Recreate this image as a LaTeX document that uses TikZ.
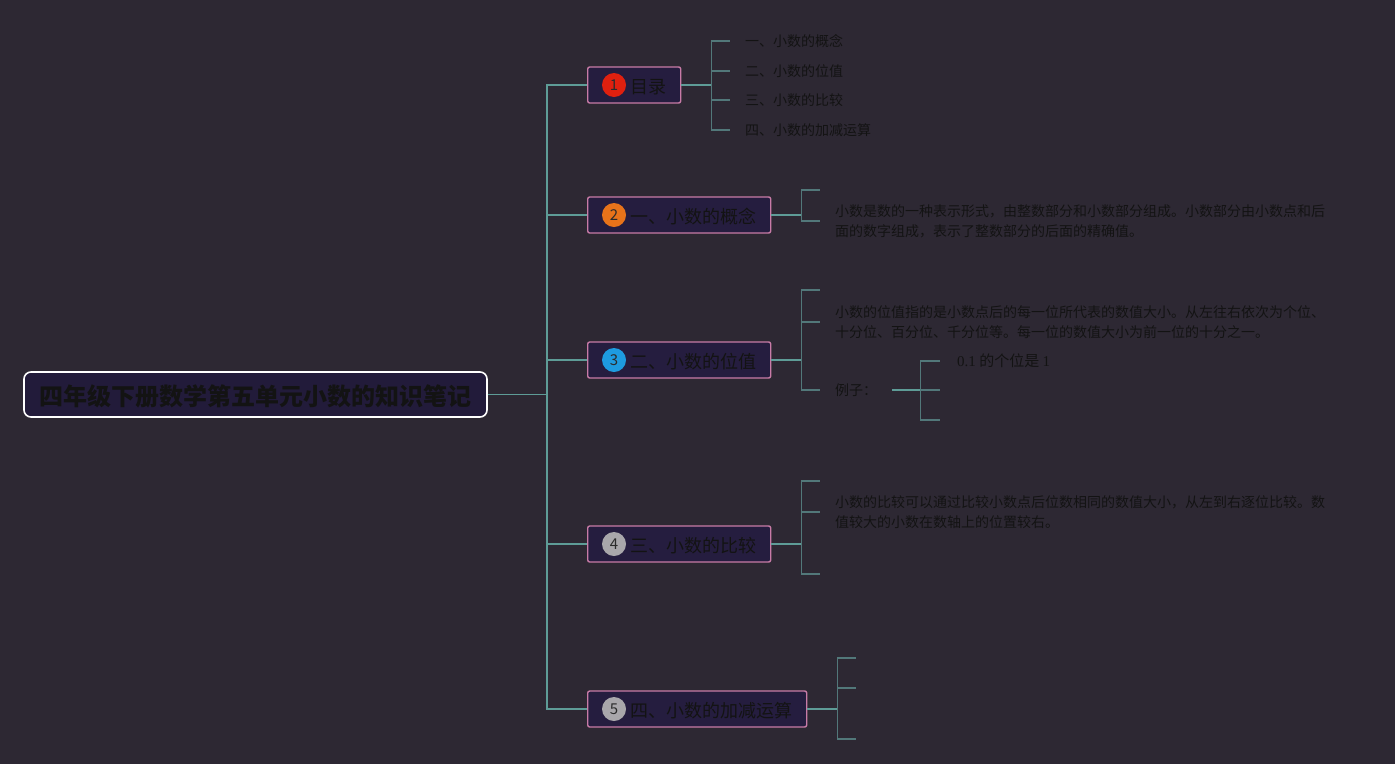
\documentclass[tikz,border=0pt]{standalone}
\usepackage{fontspec}
\setmainfont{Noto Sans CJK SC}
\newfontfamily\digitfont{Liberation Serif}
\usepackage[HTML]{xcolor}
\usepackage{tikz}

\definecolor{bgcol}{HTML}{2D2833}
\definecolor{rootfill}{HTML}{221B3A}
\definecolor{topicfill}{HTML}{251D3F}
\definecolor{pinkcol}{HTML}{C87BA7}
\definecolor{linkcol}{HTML}{5E9C97}
\definecolor{tickcol}{HTML}{52787A}
\definecolor{inkcol}{HTML}{131313}
\definecolor{badgeink}{HTML}{2B2B2B}
\definecolor{badgered}{HTML}{E0200F}
\definecolor{badgeorange}{HTML}{E8731A}
\definecolor{badgeblue}{HTML}{1E9BE0}
\definecolor{badgegray}{HTML}{A9A7AB}

\tikzset{
  root/.style={draw=white, line width=1.6pt, rounded corners=7pt, fill=rootfill,
    minimum width=463pt, minimum height=45pt, inner sep=0pt,
    text height=22pt, text depth=0pt,
    font=\fontsize{24}{28}\selectfont\bfseries, text=inkcol},
  topic/.style={draw=pinkcol, line width=1.4pt, rounded corners=2pt, fill=topicfill,
    minimum height=36pt, inner xsep=14pt, inner ysep=0pt, anchor=west,
    text height=17pt, text depth=0pt,
    font=\fontsize{18}{22}\selectfont, text=inkcol},
  badge/.style={circle, minimum size=24pt, inner sep=0pt,
    font=\fontsize{15}{15}\selectfont, text=badgeink},
  leaf/.style={anchor=west, inner xsep=15pt, inner ysep=0pt, align=left,
    font=\fontsize{14}{20}\selectfont, text=inkcol},
  link/.style={draw=linkcol, line width=1.3pt},
  tick/.style={draw=tickcol, line width=1.3pt},
}

\begin{document}
\begin{tikzpicture}[x=1pt, y=-1pt]
\fill[bgcol] (0,0) rectangle (1395,764);
\useasboundingbox (0,0) rectangle (1395,764);

% root and trunk
\node[root] (root) at (255.5,394.5) {四年级下册数学第五单元小数的知识笔记};
\coordinate (trunk) at (547,394.5);

% topics
\node[topic] (t1) at (587,85) {\hspace*{29pt}目录};
\node[topic] (t2) at (587,215) {\hspace*{29pt}一、小数的概念};
\node[topic] (t3) at (587,360) {\hspace*{29pt}二、小数的位值};
\node[topic] (t4) at (587,544) {\hspace*{29pt}三、小数的比较};
\node[topic] (t5) at (587,709) {\hspace*{29pt}四、小数的加减运算};

\node[badge, fill=badgered] (b1) at ([xshift=27pt]t1.west) {1};
\node[badge, fill=badgeorange] (b2) at ([xshift=27pt]t2.west) {2};
\node[badge, fill=badgeblue] (b3) at ([xshift=27pt]t3.west) {3};
\node[badge, fill=badgegray] (b4) at ([xshift=27pt]t4.west) {4};
\node[badge, fill=badgegray] (b5) at ([xshift=27pt]t5.west) {5};

\draw[link] (root.east) -- (trunk);
\foreach \t in {t1,t2,t3,t4,t5}
  \draw[link] (trunk) |- (\t.west);

% 1: contents
\node[leaf] (s11) at (730,41) {一、小数的概念};
\node[leaf] (s12) at (730,71) {二、小数的位值};
\node[leaf] (s13) at (730,100) {三、小数的比较};
\node[leaf] (s14) at (730,130) {四、小数的加减运算};
\coordinate (k1) at ([xshift=30pt]t1.east);
\draw[link] (t1.east) -- (k1);
\foreach \s in {s11,s12,s13,s14}
  \draw[tick] (k1) |- (\s.west);

% 2: concept
\coordinate (e21) at (820,190);
\node[leaf] (s22) at (820,221) {小数是数的一种表示形式，由整数部分和小数部分组成。小数部分由小数点和后\\面的数字组成，表示了整数部分的后面的精确值。};
\coordinate (k2) at ([xshift=30pt]t2.east);
\draw[link] (t2.east) -- (k2);
\foreach \s in {e21,s22}
  \draw[tick] (k2) |- (\s.west);

% 3: place value
\coordinate (e31) at (820,290);
\node[leaf] (s32) at (820,322) {小数的位值指的是小数点后的每一位所代表的数值大小。从左往右依次为个位、\\十分位、百分位、千分位等。每一位的数值大小为前一位的十分之一。};
\node[leaf] (s33) at (820,390) {例子：};
\coordinate (k3) at ([xshift=30pt]t3.east);
\draw[link] (t3.east) -- (k3);
\foreach \s in {e31,s32,s33}
  \draw[tick] (k3) |- (\s.west);

\node[leaf, inner xsep=17pt, font=\fontsize{15}{20}\selectfont] (s331) at (940,361) {{\digitfont 0.1} 的个位是 {\digitfont 1}};
\coordinate (e332) at (940,390);
\coordinate (e333) at (940,420);
\coordinate (k33) at ([xshift=28pt]s33.east);
\draw[link] (s33.east) -- (k33);
\foreach \s in {s331,e332,e333}
  \draw[tick] (k33) |- (\s.west);

% 4: comparison
\coordinate (e41) at (820,481);
\node[leaf] (s42) at (820,512) {小数的比较可以通过比较小数点后位数相同的数值大小，从左到右逐位比较。数\\值较大的小数在数轴上的位置较右。};
\coordinate (e43) at (820,574);
\coordinate (k4) at ([xshift=30pt]t4.east);
\draw[link] (t4.east) -- (k4);
\foreach \s in {e41,s42,e43}
  \draw[tick] (k4) |- (\s.west);

% 5: addition and subtraction
\coordinate (e51) at (856,658);
\coordinate (e52) at (856,688);
\coordinate (e53) at (856,739);
\coordinate (k5) at ([xshift=30pt]t5.east);
\draw[link] (t5.east) -- (k5);
\foreach \s in {e51,e52,e53}
  \draw[tick] (k5) |- (\s.west);
\end{tikzpicture}
\end{document}
